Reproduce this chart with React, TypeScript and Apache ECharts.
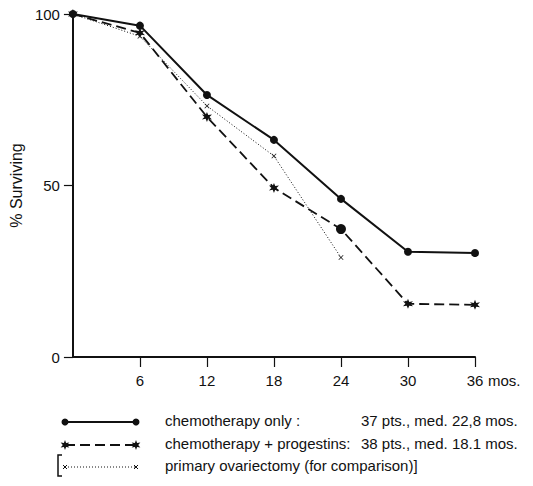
import React, { useEffect, useRef } from "react";
import * as echarts from "echarts";

const months = [0, 6, 12, 18, 24, 30, 36];
const chemoOnly = [100, 96.6, 76.4, 63.3, 46.1, 30.7, 30.3];
const chemoProg = [100, 94.5, 70, 49.3, 37.3, 15.5, 15.2];
const ovariectomyMonths = [0, 6, 12, 18, 24];
const ovariectomy = [100, 93.5, 73.2, 58.6, 29];
const xTickLabels = [6, 12, 18, 24, 30, 36];
const yTicks = [0, 50, 100];

const legendRows = [
  { name: "chemotherapy only :", stats: "37 pts., med. 22,8 mos." },
  { name: "chemotherapy + progestins:", stats: "38 pts., med. 18.1 mos." },
  { name: "primary ovariectomy (for comparison)]", stats: "" },
];

const FONT = "Liberation Sans, Arial, sans-serif";
const INK = "#111";

const STAR =
  "path://M0,-10 L2.2,-3.8 L8.66,-5 L4.4,0 L8.66,5 L2.2,3.8 L0,10 L-2.2,3.8 L-8.66,5 L-4.4,0 L-8.66,-5 L-2.2,-3.8 Z";
const CROSS =
  "path://M0,1 L1,0 L5,4 L9,0 L10,1 L6,5 L10,9 L9,10 L5,6 L1,10 L0,9 L4,5 Z";

function starPoints(cx: number, cy: number, r: number) {
  const pts: number[][] = [];
  for (let i = 0; i < 12; i++) {
    const a = ((-90 + i * 30) * Math.PI) / 180;
    const rr = i % 2 === 0 ? r : r * 0.44;
    pts.push([cx + rr * Math.cos(a), cy + rr * Math.sin(a)]);
  }
  return pts;
}

function crossLines(cx: number, cy: number, r: number) {
  return [
    { type: "line", shape: { x1: cx - r, y1: cy - r, x2: cx + r, y2: cy + r }, style: { stroke: INK, lineWidth: 1 } },
    { type: "line", shape: { x1: cx - r, y1: cy + r, x2: cx + r, y2: cy - r }, style: { stroke: INK, lineWidth: 1 } },
  ];
}

export default function App() {
  const ref = useRef<HTMLDivElement>(null);
  useEffect(() => {
    if (!ref.current) return;
    const chart = echarts.init(ref.current, null, { renderer: "svg" });
    const rowY = [422, 445, 467];
    const lx1 = 65;
    const lx2 = 136;
    const graphic: any[] = [
      {
        type: "text",
        left: 488,
        top: 373,
        style: { text: "mos.", font: `15px ${FONT}`, fill: INK },
      },
      // legend row 1
      { type: "line", shape: { x1: lx1, y1: rowY[0], x2: lx2, y2: rowY[0] }, style: { stroke: INK, lineWidth: 2 } },
      { type: "circle", shape: { cx: lx1, cy: rowY[0], r: 3.5 }, style: { fill: INK } },
      { type: "circle", shape: { cx: lx2, cy: rowY[0], r: 3.5 }, style: { fill: INK } },
      // legend row 2
      {
        type: "line",
        shape: { x1: lx1, y1: rowY[1], x2: lx2, y2: rowY[1] },
        style: { stroke: INK, lineWidth: 1.8, lineDash: [10, 5] },
      },
      { type: "polygon", shape: { points: starPoints(lx1, rowY[1], 5) }, style: { fill: INK } },
      { type: "polygon", shape: { points: starPoints(lx2, rowY[1], 5) }, style: { fill: INK } },
      // legend row 3
      {
        type: "line",
        shape: { x1: lx1, y1: rowY[2], x2: lx2, y2: rowY[2] },
        style: { stroke: INK, lineWidth: 1, lineDash: [1, 2] },
      },
      ...crossLines(lx1, rowY[2], 2),
      ...crossLines(lx2, rowY[2], 2),
      {
        type: "polyline",
        shape: { points: [[62, 455], [58, 455], [58, 476], [62, 476]] },
        style: { stroke: INK, lineWidth: 1.5, fill: "none" },
      },
    ];
    legendRows.forEach((row, i) => {
      graphic.push({
        type: "text",
        left: 165,
        top: rowY[i] - 9,
        style: { text: row.name, font: `15px ${FONT}`, fill: INK },
      });
      if (row.stats) {
        graphic.push({
          type: "text",
          left: 361,
          top: rowY[i] - 9,
          style: { text: row.stats, font: `15px ${FONT}`, fill: INK },
        });
      }
    });

    chart.setOption({
      animation: false,
      backgroundColor: "#fff",
      grid: { left: 68, right: 58, top: 14, bottom: 129 },
      xAxis: {
        type: "value",
        min: 0,
        max: 36,
        interval: 6,
        splitLine: { show: false },
        axisLine: { lineStyle: { color: INK, width: 2 } },
        axisTick: { show: true, length: 10, customValues: xTickLabels, lineStyle: { color: INK, width: 1.2 } },
        axisLabel: {
          customValues: xTickLabels,
          color: INK,
          fontSize: 15,
          fontFamily: FONT,
          margin: 16,
        },
      },
      yAxis: {
        type: "value",
        min: 0,
        max: 100,
        interval: 50,
        name: "% Surviving",
        nameLocation: "middle",
        nameGap: 44,
        nameTextStyle: { color: INK, fontSize: 16, fontFamily: FONT },
        splitLine: { show: false },
        axisLine: { show: true, lineStyle: { color: INK, width: 2 } },
        axisTick: { show: true, length: 9, customValues: yTicks, lineStyle: { color: INK, width: 1.2 } },
        axisLabel: { color: INK, fontSize: 15, fontFamily: FONT, margin: 13 },
      },
      graphic,
      series: [
        {
          name: "chemotherapy only",
          type: "line",
          data: months.map((m, i) => [m, chemoOnly[i]]),
          symbol: "circle",
          symbolSize: 8,
          showSymbol: true,
          lineStyle: { color: INK, width: 2 },
          itemStyle: { color: INK },
          z: 3,
        },
        {
          name: "chemotherapy + progestins",
          type: "line",
          data: months.map((m, i) =>
            m === 24
              ? { value: [m, chemoProg[i]], symbol: "circle", symbolSize: 10 }
              : { value: [m, chemoProg[i]] }
          ),
          symbol: STAR,
          symbolSize: 10,
          lineStyle: { color: INK, width: 1.8, type: [10, 5] },
          itemStyle: { color: INK },
          z: 2,
        },
        {
          name: "primary ovariectomy",
          type: "line",
          data: ovariectomyMonths.map((m, i) => [m, ovariectomy[i]]),
          symbol: CROSS,
          symbolSize: 5,
          lineStyle: { color: INK, width: 1, type: [1, 2] },
          itemStyle: { color: INK },
          z: 1,
        },
      ],
    });
    return () => chart.dispose();
  }, []);
  return (
    <div
      ref={ref}
      style={{ position: "fixed", left: 0, top: 0, width: 533, height: 486 }}
    />
  );
}
